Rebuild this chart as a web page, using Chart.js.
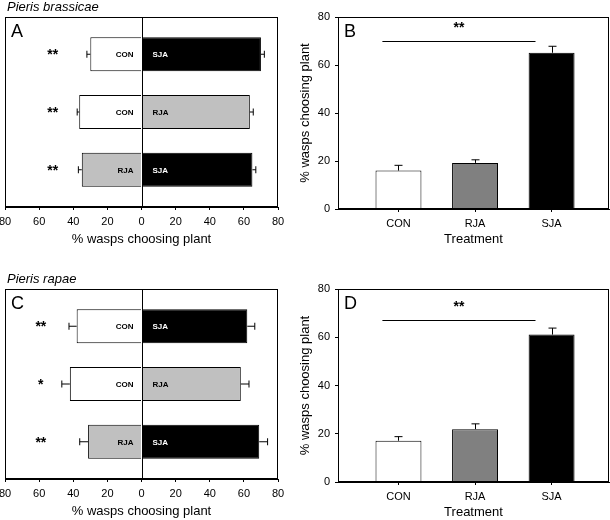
<!DOCTYPE html>
<html>
<head>
<meta charset="utf-8">
<script src="https://cdn.jsdelivr.net/npm/chart.js@4.4.1/dist/chart.umd.min.js"></script>
<style>
  body { margin: 0; background: #fff; }
  canvas { position: absolute; }
</style>
</head>
<body>
<canvas id="chartA" width="300" height="260" style="left:0;top:0"></canvas>
<canvas id="chartB" width="312" height="260" style="left:298px;top:0"></canvas>
<canvas id="chartC" width="300" height="260" style="left:0;top:260px"></canvas>
<canvas id="chartD" width="312" height="260" style="left:298px;top:260px"></canvas>
<script>
// paired choice tests (rows top to bottom)
const pairRows = [1, 2, 3];
const brassicaeLeftNames = ['CON', 'CON', 'RJA'];
const brassicaeRightNames = ['SJA', 'RJA', 'SJA'];
const brassicaeLeft = [30, 36.5, 35];
const brassicaeLeftErr = [2, 1.2, 2];
const brassicaeRight = [70, 63.5, 65];
const brassicaeRightErr = [2, 2, 2];
const brassicaeStars = ['**', '**', '**'];

const rapaeLeftNames = ['CON', 'CON', 'RJA'];
const rapaeRightNames = ['SJA', 'RJA', 'SJA'];
const rapaeLeft = [38, 42, 31.3];
const rapaeLeftErr = [4.5, 4.7, 4.9];
const rapaeRight = [62, 58.2, 69];
const rapaeRightErr = [4.4, 4.8, 4.9];
const rapaeStars = ['**', '*', '**'];

// single choice tests
const treatments = ['CON', 'RJA', 'SJA'];
const brassicaeChoice = [16, 19.2, 65.1];
const brassicaeChoiceErr = [2.2, 1.3, 2.7];
const rapaeChoice = [17.1, 21.9, 61.1];
const rapaeChoiceErr = [1.7, 2.2, 2.7];
const brassicaeSigLevel = 70;
const rapaeSigLevel = 67;

const pairTicks = [-80, -60, -40, -20, 0, 20, 40, 60, 80];
const choiceTicks = [0, 20, 40, 60, 80];

const pairFill = { CON: '#ffffff', RJA: '#c0c0c0', SJA: '#000000' };
const choiceFill = { CON: '#ffffff', RJA: '#808080', SJA: '#000000' };

Chart.defaults.font.family = '"Liberation Sans", Arial, sans-serif';
Chart.defaults.color = '#000';

const starFont = 'bold 14px "Liberation Sans", Arial, sans-serif';
const axisGrid = { drawOnChartArea: false, drawTicks: true, tickLength: 3, color: '#000', offset: false };
const axisBorder = { display: true, color: '#000', width: 1 };
const fixedTicks = (vals) => (scale) => { scale.ticks = vals.map(v => ({ value: v })); };

function drawBox(ctx, a) {
    const l = Math.round(a.left) + 0.5, t = Math.round(a.top) + 0.5;
    const r = Math.round(a.right) - 0.5, b = Math.round(a.bottom) - 0.5;
    ctx.strokeRect(l, t, r - l, b - t);
}

function line(ctx, x1, y1, x2, y2) {
    ctx.beginPath();
    ctx.moveTo(x1, y1);
    ctx.lineTo(x2, y2);
    ctx.stroke();
}

function pairDecor(p) {
    return {
        id: 'pairDecor',
        afterDatasetsDraw(chart) {
            const { ctx, chartArea: a, scales: { x, y } } = chart;
            ctx.save();
            ctx.strokeStyle = '#000';
            ctx.lineWidth = 1;
            const zx = Math.round(x.getPixelForValue(0)) + 0.5;
            line(ctx, zx, a.top, zx, a.bottom);

            pairRows.forEach((row, i) => {
                const cy = y.getPixelForValue(row);
                // error bars, outward only
                const l0 = x.getPixelForValue(-p.left[i]);
                const l1 = x.getPixelForValue(-p.left[i] - p.leftErr[i]);
                line(ctx, l0, cy, l1, cy);
                line(ctx, l1, cy - 3.5, l1, cy + 3.5);
                const r0 = x.getPixelForValue(p.right[i]);
                const r1 = x.getPixelForValue(p.right[i] + p.rightErr[i]);
                line(ctx, r0, cy, r1, cy);
                line(ctx, r1, cy - 3.5, r1, cy + 3.5);

                ctx.font = 'bold 8px "Liberation Sans", Arial, sans-serif';
                ctx.textBaseline = 'middle';
                ctx.textAlign = 'right';
                ctx.fillStyle = p.leftNames[i] === 'SJA' ? '#fff' : '#000';
                ctx.fillText(p.leftNames[i], zx - 9, cy + 1);
                ctx.textAlign = 'left';
                ctx.fillStyle = p.rightNames[i] === 'SJA' ? '#fff' : '#000';
                ctx.fillText(p.rightNames[i], zx + 10, cy + 1);

                ctx.fillStyle = '#000';
                ctx.font = starFont;
                ctx.textAlign = 'center';
                ctx.fillText(p.stars[i], x.getPixelForValue(p.starAt), cy + 1);
            });

            drawBox(ctx, a);
            ctx.fillStyle = '#000';
            ctx.textAlign = 'left';
            ctx.textBaseline = 'alphabetic';
            ctx.font = '18px "Liberation Sans", Arial, sans-serif';
            ctx.fillText(p.letter, a.left + 6, a.top + 20);
            ctx.font = 'italic 13px "Liberation Sans", Arial, sans-serif';
            ctx.fillText(p.species, 7, a.top - 6);
            ctx.restore();
        }
    };
}

function makePairChart(id, p) {
    return new Chart(document.getElementById(id), {
        type: 'bar',
        data: {
            datasets: [{
                data: p.left.map((v, i) => ({ x: -v, y: pairRows[i] })),
                backgroundColor: p.leftNames.map(n => pairFill[n]),
                borderColor: '#000',
                borderWidth: 1,
                grouped: false,
                barPercentage: 0.59,
                categoryPercentage: 1
            }, {
                data: p.right.map((v, i) => ({ x: v, y: pairRows[i] })),
                backgroundColor: p.rightNames.map(n => pairFill[n]),
                borderColor: '#000',
                borderWidth: 1,
                grouped: false,
                barPercentage: 0.59,
                categoryPercentage: 1
            }]
        },
        options: {
            indexAxis: 'y',
            responsive: false,
            animation: false,
            layout: { padding: p.padding },
            plugins: { legend: { display: false }, tooltip: { enabled: false } },
            scales: {
                x: {
                    type: 'linear',
                    min: -80,
                    max: 80,
                    offset: false,
                    afterBuildTicks: fixedTicks(pairTicks),
                    ticks: { callback: v => Math.abs(v), font: { size: 11 }, padding: 5, maxRotation: 0 },
                    grid: axisGrid,
                    border: axisBorder,
                    title: { display: true, text: '% wasps choosing plant', font: { size: 13 }, padding: 0 },
                    afterFit(s) { s.height = 40; s.paddingLeft = 0; s.paddingRight = 0; }
                },
                y: {
                    type: 'linear',
                    reverse: true,
                    min: 0.355,
                    max: 3.645,
                    offset: false,
                    afterBuildTicks: fixedTicks(pairRows),
                    ticks: { display: false },
                    grid: { display: false, offset: false },
                    border: { display: false },
                    afterFit(s) { s.width = 0; s.paddingTop = 0; s.paddingBottom = 0; }
                }
            }
        },
        plugins: [pairDecor(p)]
    });
}

function choiceDecor(c) {
    return {
        id: 'choiceDecor',
        afterDatasetsDraw(chart) {
            const { ctx, chartArea: a, scales: { x, y } } = chart;
            ctx.save();
            ctx.strokeStyle = '#000';
            ctx.lineWidth = 1;
            treatments.forEach((t, i) => {
                const cx = Math.round(x.getPixelForValue(i + 1)) + 0.5;
                const y0 = y.getPixelForValue(c.values[i]);
                const y1 = y.getPixelForValue(c.values[i] + c.err[i]);
                line(ctx, cx, y0, cx, y1);
                line(ctx, cx - 4, y1, cx + 4, y1);
            });
            // significance bar between CON and SJA
            const sy = Math.round(y.getPixelForValue(c.sig)) + 0.5;
            const sx0 = x.getPixelForValue(0.79);
            const sx1 = x.getPixelForValue(2.79);
            line(ctx, sx0, sy, sx1, sy);
            ctx.fillStyle = '#000';
            ctx.font = starFont;
            ctx.textAlign = 'center';
            ctx.textBaseline = 'middle';
            ctx.fillText('**', (sx0 + sx1) / 2, sy - 13);

            drawBox(ctx, a);
            ctx.textAlign = 'left';
            ctx.textBaseline = 'alphabetic';
            ctx.font = '18px "Liberation Sans", Arial, sans-serif';
            ctx.fillText(c.letter, a.left + 6, a.top + 20);
            ctx.restore();
        }
    };
}

function makeChoiceChart(id, c) {
    return new Chart(document.getElementById(id), {
        type: 'bar',
        data: {
            datasets: [{
                data: c.values.map((v, i) => ({ x: i + 1, y: v })),
                backgroundColor: treatments.map(t => choiceFill[t]),
                borderColor: '#000',
                borderWidth: 1,
                barPercentage: 0.6,
                categoryPercentage: 1
            }]
        },
        options: {
            responsive: false,
            animation: false,
            layout: { padding: c.padding },
            plugins: { legend: { display: false }, tooltip: { enabled: false } },
            scales: {
                x: {
                    type: 'linear',
                    min: 0.21,
                    max: 3.75,
                    offset: false,
                    afterBuildTicks: fixedTicks([1, 2, 3]),
                    ticks: { callback: v => treatments[v - 1], font: { size: 11 }, padding: 5, maxRotation: 0 },
                    grid: axisGrid,
                    border: axisBorder,
                    title: { display: true, text: 'Treatment', font: { size: 13 }, padding: 0 },
                    afterFit(s) { s.height = c.xHeight; s.paddingLeft = 0; s.paddingRight = 0; }
                },
                y: {
                    type: 'linear',
                    min: 0,
                    max: 80,
                    afterBuildTicks: fixedTicks(choiceTicks),
                    ticks: { font: { size: 11 }, padding: 5 },
                    grid: axisGrid,
                    border: axisBorder,
                    title: { display: true, text: '% wasps choosing plant', font: { size: 13 }, padding: 0 },
                    afterFit(s) { s.width = 40; s.paddingTop = 0; s.paddingBottom = 0; }
                }
            }
        },
        plugins: [choiceDecor(c)]
    });
}

makePairChart('chartA', {
    left: brassicaeLeft, leftErr: brassicaeLeftErr, leftNames: brassicaeLeftNames,
    right: brassicaeRight, rightErr: brassicaeRightErr, rightNames: brassicaeRightNames,
    stars: brassicaeStars, starAt: -52, letter: 'A', species: 'Pieris brassicae',
    padding: { left: 5, right: 22, top: 17, bottom: 13 }
});
makePairChart('chartC', {
    left: rapaeLeft, leftErr: rapaeLeftErr, leftNames: rapaeLeftNames,
    right: rapaeRight, rightErr: rapaeRightErr, rightNames: rapaeRightNames,
    stars: rapaeStars, starAt: -59, letter: 'C', species: 'Pieris rapae',
    padding: { left: 5, right: 22, top: 29, bottom: 1 }
});
makeChoiceChart('chartB', {
    values: brassicaeChoice, err: brassicaeChoiceErr, sig: brassicaeSigLevel, letter: 'B',
    padding: { left: 0, right: 1, top: 17, bottom: 13 }, xHeight: 38
});
makeChoiceChart('chartD', {
    values: rapaeChoice, err: rapaeChoiceErr, sig: rapaeSigLevel, letter: 'D',
    padding: { left: 0, right: 1, top: 29, bottom: 0 }, xHeight: 38
});
</script>
</body>
</html>
